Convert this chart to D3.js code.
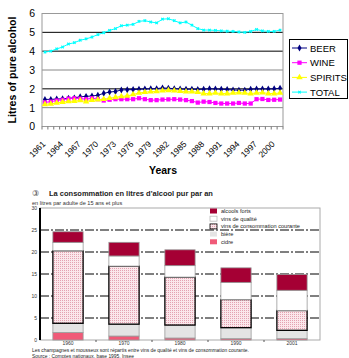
<!DOCTYPE html>
<html>
<head>
<meta charset="utf-8">
<script src="https://cdn.jsdelivr.net/npm/d3@7"></script>
<style>
body { margin:0; background:#fff; }
svg { display:block; font-family:"Liberation Sans", Arial, sans-serif; }
</style>
</head>
<body>
<div id="chart-area"></div>
<script>
// ---- top chart data (litres of pure alcohol, 1961-2001)
var years = [1961,1962,1963,1964,1965,1966,1967,1968,1969,1970,
        1971,1972,1973,1974,1975,1976,1977,1978,1979,1980,
        1981,1982,1983,1984,1985,1986,1987,1988,1989,1990,
        1991,1992,1993,1994,1995,1996,1997,1998,1999,2000,2001];
var beer = [1.44,1.44,1.46,1.47,1.50,1.52,1.58,1.60,1.62,1.66,
        1.76,1.83,1.86,1.94,1.95,1.96,1.98,1.99,2.00,2.01,
        2.05,2.03,2.01,1.99,1.98,1.98,1.97,1.98,2.00,1.99,
        1.98,1.96,1.94,1.93,1.93,1.98,1.99,1.99,1.99,2.00,2.03];
var wine = [1.28,1.32,1.38,1.42,1.48,1.50,1.48,1.45,1.50,1.45,
        1.38,1.42,1.45,1.45,1.45,1.45,1.50,1.45,1.40,1.40,
        1.43,1.44,1.45,1.43,1.40,1.35,1.27,1.32,1.30,1.25,
        1.22,1.22,1.22,1.25,1.22,1.22,1.45,1.46,1.41,1.42,1.43];
var spirits = [1.18,1.20,1.25,1.30,1.33,1.35,1.38,1.32,1.40,1.42,
        1.45,1.50,1.55,1.60,1.62,1.70,1.78,1.82,1.85,1.86,
        1.90,1.92,1.90,1.88,1.85,1.85,1.82,1.75,1.75,1.78,
        1.75,1.75,1.78,1.80,1.78,1.75,1.78,1.80,1.75,1.75,1.78];
var total = [3.95,4.00,4.12,4.22,4.38,4.45,4.58,4.65,4.75,4.88,
        4.98,5.10,5.20,5.35,5.38,5.42,5.58,5.62,5.55,5.50,
        5.70,5.72,5.62,5.50,5.55,5.38,5.20,5.12,5.12,5.10,
        5.08,5.06,5.05,5.02,5.00,5.05,5.15,5.08,5.05,5.05,5.12];
var yearLabels = [1961,1964,1967,1970,1973,1976,1979,1982,1985,1988,1991,1994,1997,2000];

// ---- bottom chart data (litres per adult aged 15+)
var periods = ["1960","1970","1980","1990","2001"];
var cidre = [1.7,0.9,0.45,0.3,0.3];
var biere = [2.1,2.7,2.95,2.5,1.9];
var vinsCourants = [16.5,13.2,10.9,6.4,4.5];
var vinsQualite = [1.9,2.3,2.6,3.9,4.6];
var alcoolsForts = [2.4,3.1,3.6,3.3,3.6];
var barTicks = [0,5,10,15,20,25,30];

var svg = d3.select("#chart-area")
        .append("svg")
                .attr("width",349)
                .attr("height",358);

// =============== top chart ===============
var p1 = { left:42, right:283, top:13.5, bottom:126.5 };

var x = d3.scaleBand()
        .domain(years)
        .range([p1.left,p1.right]);

var y = d3.scaleLinear()
        .domain([0,6])
        .range([p1.bottom,p1.top]);

var g1 = svg.append("g");

// gridlines
[1,2,3,4,5].forEach(function(v){
        g1.append("line")
                .attr("x1",p1.left).attr("x2",p1.right)
                .attr("y1",y(v)).attr("y2",y(v))
                .attr("stroke",(v==1 || v==3) ? "#888" : "#000")
                .attr("stroke-width",1);
});

// frame
g1.append("rect")
        .attr("x",p1.left).attr("y",p1.top)
        .attr("width",p1.right-p1.left).attr("height",p1.bottom-p1.top)
        .attr("fill","none")
        .attr("stroke","#999");

// ticks between categories
var edges = years.map(function(d){ return x(d); }).concat([p1.right]);
g1.selectAll(".xtick")
        .data(edges)
        .enter()
        .append("line")
        .attr("class","xtick")
        .attr("x1",d => d).attr("x2",d => d)
        .attr("y1",p1.bottom).attr("y2",p1.bottom+3)
        .attr("stroke","#777");

var yAxisCall = d3.axisLeft(y)
        .ticks(6)
        .tickSize(0)
        .tickPadding(7);
g1.append("g")
        .attr("transform","translate(" + p1.left + ",0)")
        .call(yAxisCall)
        .call(g => g.select(".domain").remove())
        .selectAll("text")
                .attr("font-size","10.5px")
                .attr("fill","#000");

var xAxisCall = d3.axisBottom(x)
        .tickValues(yearLabels)
        .tickSize(0);
g1.append("g")
        .attr("transform","translate(0," + p1.bottom + ")")
        .call(xAxisCall)
        .call(g => g.select(".domain").remove())
        .selectAll("text")
                .attr("x",0)
                .attr("y",0)
                .attr("dy","0.35em")
                .attr("font-size","8.5px")
                .attr("fill","#000")
                .attr("text-anchor","end")
                .attr("transform","translate(-1,16) rotate(-45)");

g1.append("text")
        .attr("x",163)
        .attr("y",174)
        .attr("font-size","10.5px")
        .attr("font-weight","bold")
        .attr("text-anchor","middle")
        .text("Years");

g1.append("text")
        .attr("transform","translate(16," + ((p1.top+p1.bottom)/2) + ") rotate(-90)")
        .attr("font-size","10.5px")
        .attr("font-weight","bold")
        .attr("text-anchor","middle")
        .text("Litres of pure alcohol");

var series = [
        { name:"BEER", values:beer, color:"#000080", symbol:d3.symbolDiamond, size:14, rot:0 },
        { name:"WINE", values:wine, color:"#ff00ff", symbol:d3.symbolSquare, size:18, rot:0 },
        { name:"SPIRITS", values:spirits, color:"#ffff00", symbol:d3.symbolTriangle, size:18, rot:0 },
        { name:"TOTAL", values:total, color:"#00ffff", symbol:d3.symbolCross, size:7, rot:45 }
];

var line = d3.line()
        .x((d,i) => x(years[i]) + x.bandwidth()/2)
        .y(d => y(d));

series.forEach(function(s){
        g1.append("path")
                .attr("d",line(s.values))
                .attr("fill","none")
                .attr("stroke",s.color)
                .attr("stroke-width",1);
        g1.selectAll(".m-" + s.name)
                .data(s.values)
                .enter()
                .append("path")
                .attr("class","m-" + s.name)
                .attr("d",d3.symbol().type(s.symbol).size(s.size))
                .attr("transform",(d,i) => "translate(" + (x(years[i]) + x.bandwidth()/2) + "," + y(d) + ") rotate(" + s.rot + ")")
                .attr("fill",s.color);
});

// legend
var leg1 = g1.append("g");
leg1.append("rect")
        .attr("x",289.5).attr("y",39.5)
        .attr("width",58).attr("height",59)
        .attr("fill","#fff")
        .attr("stroke","#000");
series.forEach(function(s,i){
        var ly = 48 + i*14.7;
        leg1.append("line")
                .attr("x1",292).attr("x2",307)
                .attr("y1",ly).attr("y2",ly)
                .attr("stroke",s.color);
        leg1.append("path")
                .attr("d",d3.symbol().type(s.symbol).size(s.size))
                .attr("transform","translate(299.5," + ly + ") rotate(" + s.rot + ")")
                .attr("fill",s.color);
        leg1.append("text")
                .attr("x",310)
                .attr("y",ly+3.5)
                .attr("font-size","9.5px")
                .text(s.name);
});

// =============== bottom chart ===============
var p2 = { left:40, right:320, top:208, bottom:340 };

var defs = svg.append("defs");
var pat = defs.append("pattern")
        .attr("id","stipple")
        .attr("width",2).attr("height",2)
        .attr("patternUnits","userSpaceOnUse");
pat.append("rect").attr("width",2).attr("height",2).attr("fill","#fbe7eb");
pat.append("rect").attr("width",1).attr("height",1).attr("fill","#e4a2b1");

var rows = periods.map(function(p,i){
        return { period:p, cidre:cidre[i], biere:biere[i], courants:vinsCourants[i],
                qualite:vinsQualite[i], forts:alcoolsForts[i] };
});
var keys = ["cidre","biere","courants","qualite","forts"];
var fills = { cidre:"#f05a78", biere:"#e4e4e4", courants:"url(#stipple)", qualite:"#fff", forts:"#a50034" };
var strokes = { cidre:"#999", biere:"#999", courants:"#000", qualite:"#999", forts:"#999" };

var x2 = d3.scaleBand()
        .domain(periods)
        .range([p2.left,p2.right])
        .paddingInner(0.46)
        .paddingOuter(0.23);

var y2 = d3.scaleLinear()
        .domain([0,30])
        .range([p2.bottom,p2.top]);

var g2 = svg.append("g");

// title
g2.append("text")
        .attr("x",32).attr("y",196)
        .attr("font-size","8px")
        .attr("fill","#444")
        .text("\u2462");
g2.append("text")
        .attr("x",49).attr("y",196)
        .attr("font-size","7.5px")
        .attr("font-weight","bold")
        .attr("fill","#222")
        .text("La consommation en litres d'alcool pur par an");
g2.append("text")
        .attr("x",32).attr("y",204.5)
        .attr("font-size","5.6px")
        .attr("fill","#333")
        .text("en litres par adulte de 15 ans et plus");

// frame
g2.append("rect")
        .attr("x",p2.left).attr("y",p2.top)
        .attr("width",p2.right-p2.left).attr("height",p2.bottom-p2.top)
        .attr("fill","none")
        .attr("stroke","#aaa");

// dash-dot gridlines
g2.selectAll(".grid2")
        .data([5,10,15,20,25])
        .enter()
        .append("line")
        .attr("class","grid2")
        .attr("x1",p2.left).attr("x2",p2.right)
        .attr("y1",d => y2(d)).attr("y2",d => y2(d))
        .attr("stroke","#000")
        .attr("stroke-dasharray","9,2,2,2");

var yAxis2 = d3.axisLeft(y2)
        .tickValues(barTicks)
        .tickSize(0)
        .tickPadding(3);
g2.append("g")
        .attr("transform","translate(" + p2.left + ",0)")
        .call(yAxis2)
        .call(g => g.select(".domain").remove())
        .selectAll("text")
                .attr("font-size","5px")
                .attr("fill","#333");

g2.append("line")
        .attr("x1",p2.left).attr("x2",p2.left)
        .attr("y1",p2.top).attr("y2",p2.bottom)
        .attr("stroke","#000")
        .attr("stroke-width",2);

// ticks between bars
var gap = (x2.step() - x2.bandwidth())/2;
g2.selectAll(".xt2")
        .data(periods.slice(1))
        .enter()
        .append("line")
        .attr("class","xt2")
        .attr("x1",d => x2(d) - gap)
        .attr("x2",d => x2(d) - gap)
        .attr("y1",p2.bottom).attr("y2",p2.bottom+2)
        .attr("stroke","#555");

var stack = d3.stack().keys(keys);
var layers = stack(rows);

g2.selectAll(".layer")
        .data(layers)
        .enter()
        .append("g")
        .attr("class","layer")
        .each(function(layer){
                d3.select(this).selectAll("rect")
                        .data(layer)
                        .enter()
                        .append("rect")
                        .attr("x",d => x2(d.data.period))
                        .attr("y",d => y2(d[1]))
                        .attr("width",x2.bandwidth())
                        .attr("height",d => y2(d[0]) - y2(d[1]))
                        .attr("fill",fills[layer.key])
                        .attr("stroke",strokes[layer.key])
                        .attr("stroke-width",layer.key == "courants" ? 1.3 : 0.8);
        });

var xAxis2 = d3.axisBottom(x2).tickSize(0).tickPadding(1.3);
g2.append("g")
        .attr("transform","translate(0," + p2.bottom + ")")
        .call(xAxis2)
        .call(g => g.select(".domain").remove())
        .selectAll("text")
                .attr("font-size","5px")
                .attr("fill","#333");

// legend
var legItems = [
        { key:"forts", label:"alcools forts" },
        { key:"qualite", label:"vins de qualité" },
        { key:"courants", label:"vins de consommation courante" },
        { key:"biere", label:"bière" },
        { key:"cidre", label:"cidre" }
];
legItems.forEach(function(d,i){
        var ly = 208.5 + i*7.7;
        g2.append("rect")
                .attr("x",210).attr("y",ly)
                .attr("width",7).attr("height",5)
                .attr("fill",fills[d.key])
                .attr("stroke",d.key == "courants" ? "#000" : (d.key == "qualite" ? "#bbb" : "none"))
                .attr("stroke-width",0.8);
        g2.append("text")
                .attr("x",221)
                .attr("y",ly+4.3)
                .attr("font-size","5.6px")
                .attr("fill","#222")
                .text(d.label);
});

// notes
g2.append("text")
        .attr("x",32).attr("y",351.5)
        .attr("font-size","4.9px")
        .attr("fill","#222")
        .text("Les champagnes et mousseux sont répartis entre vins de qualité et vins de consommation courante.");
g2.append("text")
        .attr("x",32).attr("y",357.6)
        .attr("font-size","4.9px")
        .attr("fill","#222")
        .text("Source : Comptes nationaux, base 1995, Insee");
</script>
</body>
</html>
